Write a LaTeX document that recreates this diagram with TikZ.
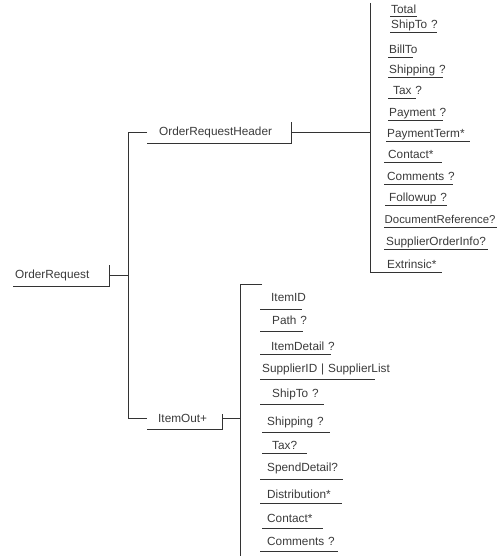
\documentclass[tikz,border=0pt]{standalone}
\usepackage{fontspec}
\setmainfont{Liberation Sans}
\usetikzlibrary{calc}

\definecolor{inkline}{HTML}{333333}
\definecolor{inktext}{HTML}{3A3A3A}

\tikzset{
  rule/.style={draw=inkline, line width=0.9pt},
  label font/.style={font=\fontsize{11.8}{14}\selectfont, text=inktext},
  leaf/.style={label font, anchor=south west, inner sep=0pt, align=left, text height=9pt},
  parent/.style={label font, anchor=south west, inner sep=0pt, align=left},
}

% underlined element: name, x of rule, y of rule, rule length, indent, depth, text
\newcommand\leaf[7]{%
  \node[leaf, text depth=#6pt, text width=#4pt] (#1) at (#2,#3) {\hspace*{#5pt}\mbox{#7}};}

\begin{document}
\begin{tikzpicture}[x=1pt, y=-1pt]
\useasboundingbox (0,0) rectangle (498,556);

% parent elements
\node[parent, text width=96pt, minimum height=21pt] (oreq) at (13,286) {\hspace*{2pt}OrderRequest};
\node[parent, text width=144pt, minimum height=21pt] (hdr) at (147,143) {\hspace*{12pt}OrderRequestHeader};
\node[parent, text width=75pt, minimum height=21pt] (item) at (147,429) {\hspace*{11pt}ItemOut+};

% children of OrderRequestHeader
\leaf{tot}{390}{16}{27}{1}{2}{Total}
\leaf{hshipto}{390}{32}{47}{1}{3}{ShipTo ?}
\leaf{bill}{388}{57}{25}{1}{3.5}{BillTo}
\leaf{hshipping}{388}{77}{55}{1}{3}{Shipping ?}
\leaf{htax}{388}{98}{28}{5}{3.5}{Tax ?}
\leaf{pay}{388}{120}{55}{1}{3}{Payment ?}
\leaf{payterm}{386}{141}{84}{1}{3}{PaymentTerm*}
\leaf{hcontact}{384}{162}{58}{4}{3}{Contact*}
\leaf{hcomments}{384}{184}{69}{3}{3}{Comments ?}
\leaf{follow}{385}{205}{62}{4}{3}{Followup ?}
\leaf{docref}{384}{227}{113}{0.5}{3}{\fontsize{11.4}{14}\selectfont DocumentReference?}
\leaf{supinfo}{384}{249}{104}{2}{3}{SupplierOrderInfo?}
\leaf{ext}{384}{272}{58}{3}{3}{Extrinsic*}

% children of ItemOut+
\leaf{iid}{260}{309}{42}{11}{7}{ItemID}
\leaf{path}{260}{331}{43}{12}{6}{Path ?}
\leaf{idet}{260}{354}{71}{11}{3}{ItemDetail ?}
\leaf{supid}{260}{379}{115}{2}{6}{SupplierID | SupplierList}
\leaf{ishipto}{260}{404}{64}{12}{6}{ShipTo ?}
\leaf{ishipping}{262}{432}{68}{5}{6}{Shipping ?}
\leaf{itax}{262}{453}{45}{10}{3}{Tax?}
\leaf{spend}{260}{479}{83}{7}{7}{SpendDetail?}
\leaf{dist}{260}{503}{82}{7}{4}{Distribution*}
\leaf{icontact}{262}{528}{61}{5}{5}{Contact*}
\leaf{icomments}{260}{551}{78}{7}{5}{Comments ?}

% underline with a tick on the right for parents
\foreach \n/\t in {oreq/21, hdr/21, item/15}
  \draw[rule] (\n.south west) -- (\n.south east) -- ++(0,-\t);

% underlines of the leaves
\foreach \n in {tot,hshipto,bill,hshipping,htax,pay,payterm,hcontact,hcomments,follow,docref,supinfo,ext,
                iid,path,idet,supid,ishipto,ishipping,itax,spend,dist,icontact,icomments}
  \draw[rule] (\n.south west) -- (\n.south east);

% bracket ends
\coordinate (mainbar) at (128,0);
\coordinate (hbartop) at (370,3);
\coordinate (ibartop) at (262,284);
\coordinate (ibarbot) at (240,556);

% OrderRequest sequence
\draw[rule] (oreq.east) -- (oreq.east -| mainbar);
\draw[rule] (hdr.west) -- (hdr.west -| mainbar) |- (item.west);

% OrderRequestHeader sequence
\draw[rule] (hdr.east) -- (hdr.east -| hbartop);
\draw[rule] (hbartop) |- (ext.south west);

% ItemOut+ sequence
\draw[rule] (item.east) -- (item.east -| ibarbot);
\draw[rule] (ibartop) -| (ibarbot);
\end{tikzpicture}
\end{document}
